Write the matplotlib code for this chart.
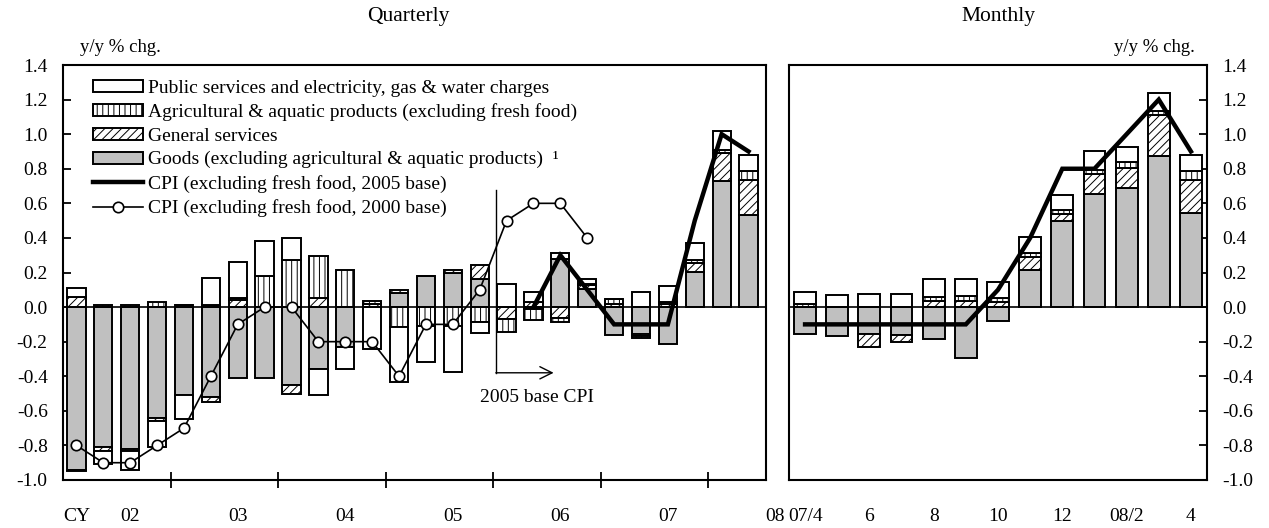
import matplotlib
matplotlib.use("Agg")
import matplotlib.pyplot as plt
import numpy as np
from matplotlib.patches import Patch
from matplotlib.lines import Line2D
from matplotlib.transforms import blended_transform_factory

plt.rcParams['font.family'] = ['Liberation Serif', 'DejaVu Serif']
plt.rcParams['hatch.linewidth'] = 0.7

# ---------------- quarterly data (2002Q1 - 2008Q2), y/y % chg contributions
goods_q = [-0.94, -0.81, -0.82, -0.64, -0.51, -0.52, -0.41, -0.41, -0.45, -0.36,
           -0.23, 0.00, 0.08, 0.18, 0.195, 0.16, 0.00, -0.01, 0.28, 0.105,
           -0.16, -0.155, -0.215, 0.205, 0.73, 0.535]
general_q = [0.06, -0.02, -0.01, -0.02, 0.01, -0.03, 0.04, 0.00, -0.05, 0.05,
             0.00, 0.02, 0.02, 0.00, 0.02, 0.085, -0.07, 0.03, -0.065, 0.02,
             0.02, -0.015, 0.02, 0.05, 0.16, 0.20]
agri_q = [-0.01, 0.01, 0.01, 0.03, 0.00, 0.01, 0.01, 0.18, 0.27, 0.245,
          0.215, 0.015, -0.115, -0.11, -0.11, -0.085, -0.075, -0.065, -0.02, 0.01,
          0.025, -0.01, 0.01, 0.015, 0.02, 0.05]
public_q = [0.05, -0.08, -0.11, -0.15, -0.14, 0.16, 0.21, 0.205, 0.13, -0.15,
            -0.13, -0.24, -0.32, -0.21, -0.265, -0.065, 0.135, 0.06, 0.03, 0.025,
            0.00, 0.085, 0.09, 0.10, 0.11, 0.095]
nan = np.nan
cpi05_q = [nan] * 17 + [0.0, 0.3, 0.1, -0.1, -0.1, -0.1, 0.5, 1.0, 0.9]
cpi00_q = [-0.8, -0.9, -0.9, -0.8, -0.7, -0.4, -0.1, 0.0, 0.0, -0.2,
           -0.2, -0.2, -0.4, -0.1, -0.1, 0.1, 0.5, 0.6, 0.6, 0.4] + [nan] * 6
year_labels = ['CY', '02', '03', '04', '05', '06', '07', '08']
year_label_pos = [0, 2, 6, 10, 14, 18, 22, 26]
year_ticks = [3.5, 7.5, 11.5, 15.5, 19.5, 23.5]

# ---------------- monthly data (2007/4 - 2008/4)
goods_m = [-0.155, -0.165, -0.155, -0.16, -0.185, -0.295, -0.078, 0.215, 0.50,
           0.655, 0.687, 0.876, 0.545]
general_m = [0.0, 0.0, -0.078, -0.04, 0.035, 0.035, 0.03, 0.077, 0.04, 0.115,
             0.12, 0.237, 0.19]
agri_m = [0.017, 0.0, 0.0, 0.0, 0.025, 0.03, 0.025, 0.02, 0.02, 0.02, 0.03,
          0.023, 0.054]
public_m = [0.07, 0.072, 0.075, 0.075, 0.10, 0.10, 0.09, 0.095, 0.09, 0.115,
            0.09, 0.10, 0.09]
cpi05_m = [-0.1, -0.1, -0.1, -0.1, -0.1, -0.1, 0.1, 0.4, 0.8, 0.8, 1.0, 1.2, 0.9]
month_labels = ['07/4', '6', '8', '10', '12', '08/2', '4']
month_label_pos = [0, 2, 4, 6, 8, 10, 12]

yticks = np.round(np.arange(-1.0, 1.41, 0.2), 1)
ytick_labels = [f"{abs(v):.1f}" if abs(v) < 1e-9 else f"{v:.1f}" for v in yticks]

FS = 14
EDGE_LW = 1.4
styles = [
    dict(facecolor='#c0c0c0', edgecolor='black', linewidth=EDGE_LW),
    dict(facecolor='white', edgecolor='black', linewidth=EDGE_LW, hatch='////'),
    dict(facecolor='white', edgecolor='black', linewidth=EDGE_LW, hatch='|||'),
    dict(facecolor='white', edgecolor='black', linewidth=EDGE_LW),
]


def stacked_bars(ax, series, width):
    """Stack positive parts upward and negative parts downward from zero."""
    n = len(series[0])
    x = np.arange(n)
    pos = np.zeros(n)
    neg = np.zeros(n)
    for vals, st in zip(series, styles):
        v = np.asarray(vals, dtype=float)
        bottom = np.where(v >= 0, pos, neg)
        ax.bar(x, v, width, bottom=bottom, zorder=2, **st)
        pos += np.clip(v, 0, None)
        neg += np.clip(v, None, 0)
    return x


def style_axis(ax, side):
    ax.set_ylim(-1.0, 1.4)
    ax.set_yticks(yticks)
    ax.set_yticklabels(ytick_labels, fontsize=FS)
    for s in ax.spines.values():
        s.set_linewidth(1.5)
    ax.axhline(0, color='black', lw=1.2, zorder=3)
    if side == 'right':
        ax.yaxis.tick_right()
        ax.tick_params(axis='y', which='both', direction='in', length=6,
                       width=1.3, pad=11, left=False, right=True)
    else:
        ax.tick_params(axis='y', which='both', direction='in', length=6,
                       width=1.3, pad=11, left=True, right=False)


fig = plt.figure(figsize=(12.69, 5.28), dpi=100)
W, H = 1269, 528
axq = fig.add_axes([63 / W, 48 / H, 703 / W, 415 / H])
axm = fig.add_axes([789 / W, 48 / H, 418 / W, 415 / H])

# ---------------- quarterly panel
xq = stacked_bars(axq, [goods_q, general_q, agri_q, public_q], 0.68)
style_axis(axq, 'left')
axq.set_xlim(-0.5, 25.65)
axq.set_xticks(year_ticks)
axq.set_xticklabels([])
axq.tick_params(axis='x', direction='inout', length=11, width=1.3)
trq = blended_transform_factory(axq.transData, axq.transAxes)
for lab, p in zip(year_labels, year_label_pos):
    axq.text(p, -0.089, lab, transform=trq, ha='center', va='center',
             fontsize=FS, clip_on=False)

axq.plot(xq, np.array(cpi05_q, dtype=float), color='black', lw=3.2,
         solid_joinstyle='miter', zorder=4)
axq.plot(xq, np.array(cpi00_q, dtype=float), color='black', lw=1.2,
         marker='o', ms=7.5, mfc='white', mec='black', mew=1.2, zorder=5)

# marker for the switch to the 2005 base index
axq.plot([15.6, 15.6], [0.676, -0.38], color='black', lw=1.0, zorder=4)
axq.annotate('', xy=(17.75, -0.38), xytext=(15.6, -0.38),
             arrowprops=dict(arrowstyle='->', lw=1.0, mutation_scale=22,
                             shrinkA=0, shrinkB=0, color='black'), zorder=4)
axq.text(17.15, -0.52, '2005 base CPI', ha='center', va='center', fontsize=FS)

# ---------------- monthly panel
xm = stacked_bars(axm, [goods_m, general_m, agri_m, public_m], 0.68)
style_axis(axm, 'right')
axm.set_xlim(-0.5, 12.5)
axm.set_xticks([])
trm = blended_transform_factory(axm.transData, axm.transAxes)
for lab, p in zip(month_labels, month_label_pos):
    axm.text(p, -0.089, lab, transform=trm, ha='center', va='center',
             fontsize=FS, clip_on=False)
axm.plot(xm, cpi05_m, color='black', lw=3.2, solid_joinstyle='miter', zorder=4)

# ---------------- titles and unit labels
fig.text(408 / W, 1 - 17 / H, 'Quarterly', ha='center', va='center', fontsize=15.5)
fig.text(998 / W, 1 - 17 / H, 'Monthly', ha='center', va='center', fontsize=15.5)
fig.text(80 / W, 1 - 47 / H, 'y/y % chg.', ha='left', va='center', fontsize=13.5)
fig.text(1195 / W, 1 - 47 / H, 'y/y % chg.', ha='right', va='center', fontsize=13.5)

# ---------------- legend
handles = [
    Patch(**styles[3]),
    Patch(**styles[2]),
    Patch(**styles[1]),
    Patch(**styles[0]),
    Line2D([], [], color='black', lw=3.2),
    Line2D([], [], color='black', lw=1.2, marker='o', ms=7.5, mfc='white',
           mec='black', mew=1.2),
]
labels = [
    'Public services and electricity, gas & water charges',
    'Agricultural & aquatic products (excluding fresh food)',
    'General services',
    'Goods (excluding agricultural & aquatic products)  \u00b9',
    'CPI (excluding fresh food, 2005 base)',
    'CPI (excluding fresh food, 2000 base)',
]
axq.legend(handles, labels, loc='upper left',
           bbox_to_anchor=(92.7 / W, 1 - 80 / H), bbox_transform=fig.transFigure,
           frameon=False, borderpad=0, borderaxespad=0, handlelength=2.6,
           handleheight=0.57, handletextpad=0.24, labelspacing=0.33, fontsize=FS)

fig.savefig('out.png', dpi=100)
